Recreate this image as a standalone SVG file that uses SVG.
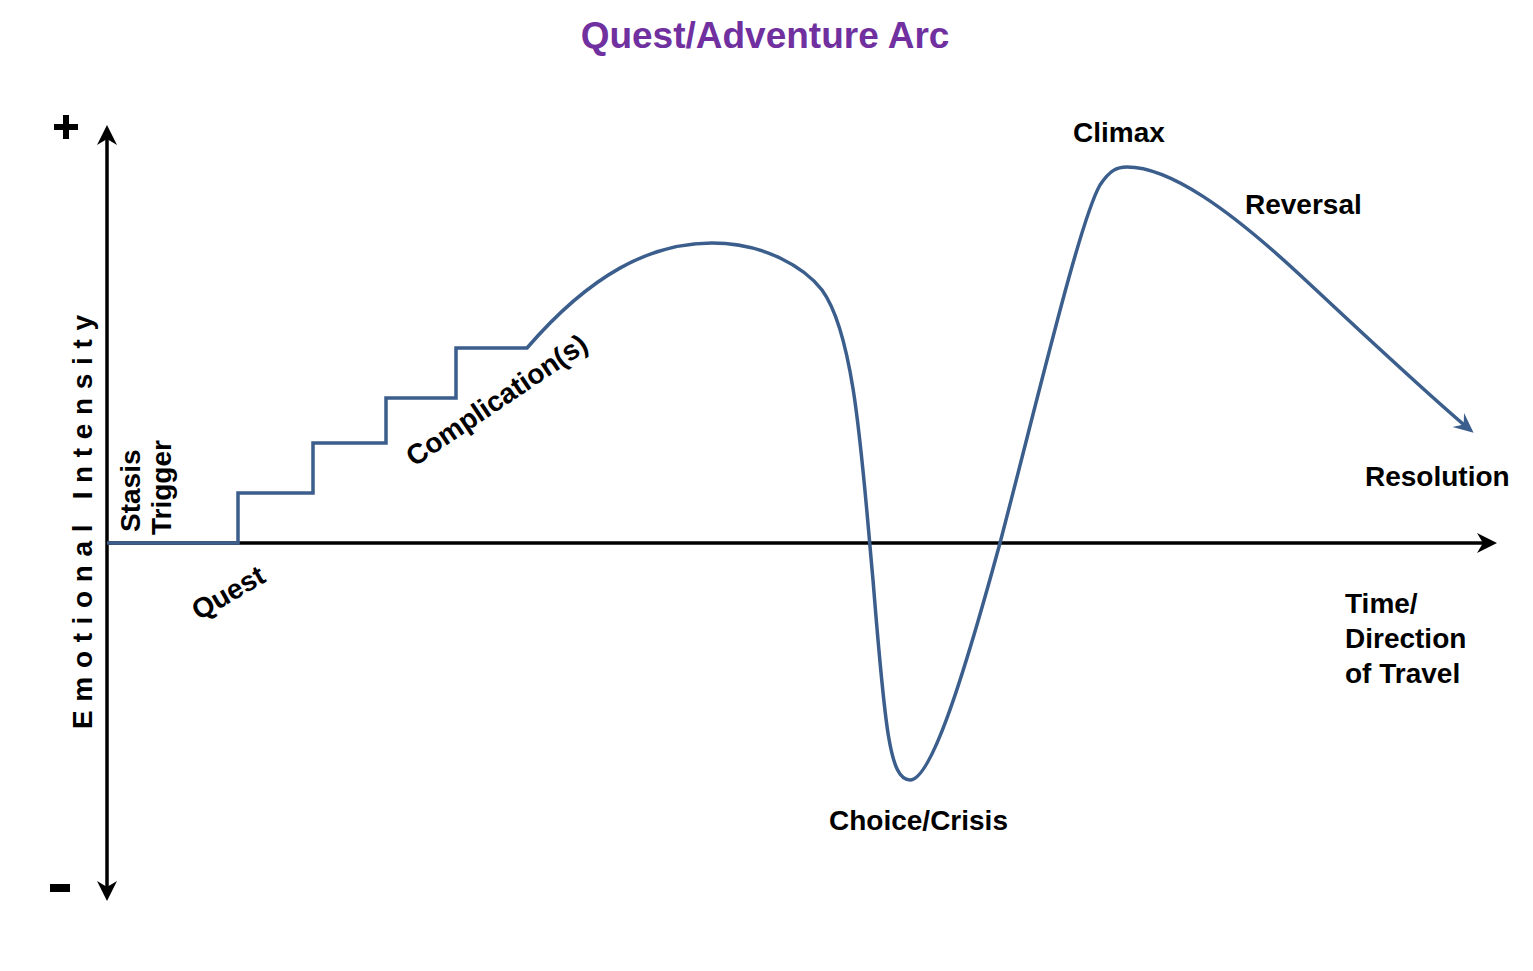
<svg xmlns="http://www.w3.org/2000/svg" width="1533" height="971" viewBox="0 0 1533 971">
<style>
.lbl{font-family:"Liberation Sans",Arial,sans-serif;font-weight:bold;font-size:28px;fill:#000}
.axis{stroke:#000;stroke-width:3.5;fill:none}
.arc{stroke:#3B5E8C;stroke-width:3.5;fill:none}
</style>
<defs>
<marker id="ah" markerUnits="userSpaceOnUse" viewBox="-14 -11 24 22" markerWidth="24" markerHeight="22" refX="0" refY="0" orient="auto-start-reverse" overflow="visible">
<path d="M8,0 L-12,-10 L-6,0 L-12,10 z" fill="#000"/>
</marker>
<marker id="bh" markerUnits="userSpaceOnUse" viewBox="-14 -11 24 22" markerWidth="24" markerHeight="22" refX="0" refY="0" orient="auto" overflow="visible">
<path d="M6,0 L-14,-9 L-7,0 L-14,9 z" fill="#3B5E8C"/>
</marker>
</defs>
<rect width="1533" height="971" fill="#fff"/>
<text x="765" y="48" text-anchor="middle" font-family="Liberation Sans, Arial, sans-serif" font-weight="bold" font-size="37" fill="#7030A0">Quest/Adventure Arc</text>
<g id="connectors">
<line id="y-axis" class="axis" x1="107" y1="893" x2="107" y2="133" marker-start="url(#ah)" marker-end="url(#ah)"/>
<line id="x-axis" class="axis" x1="107" y1="543" x2="1489" y2="543" marker-end="url(#ah)"/>
<path id="arc" class="arc" d="M107,543 H238 V493 H313 V443 H386 V398 H456 V348 H527 C590,275 650,243 712,243 C765,243 805,268 822,290 C855,335 862,460 873,580 C885,730 890,780 910,780 C930,780 960,690 1000,543 C1040,390 1080,220 1100,185 C1110,170 1117,167 1127,167 C1170,167 1230,210 1300,275 C1370,340 1425,392 1469,429" marker-end="url(#bh)"/>
</g>
<g id="plus"><rect x="54" y="124" width="24" height="6" fill="#000"/><rect x="63" y="115" width="6" height="24" fill="#000"/></g>
<g id="minus"><rect x="50" y="884" width="20" height="8" fill="#000"/></g>
<g id="emotional-intensity"><text class="lbl" font-size="32" transform="translate(92,522) rotate(-90)" text-anchor="middle" textLength="414" lengthAdjust="spacing">Emotional Intensity</text></g>
<g id="stasis"><text class="lbl" transform="translate(140,532) rotate(-90)">Stasis</text></g>
<g id="trigger"><text class="lbl" transform="translate(171,535) rotate(-90)">Trigger</text></g>
<g id="quest"><text class="lbl" transform="translate(233,601) rotate(-30)" text-anchor="middle">Quest</text></g>
<g id="complication"><text class="lbl" transform="translate(502,408) rotate(-34)" text-anchor="middle">Complication(s)</text></g>
<g id="climax"><text class="lbl" x="1073" y="142">Climax</text></g>
<g id="reversal"><text class="lbl" x="1245" y="214">Reversal</text></g>
<g id="resolution"><text class="lbl" x="1365" y="486">Resolution</text></g>
<g id="time"><text class="lbl" x="1345" y="613">Time/</text><text class="lbl" x="1345" y="648">Direction</text><text class="lbl" x="1345" y="683">of Travel</text></g>
<g id="choice-crisis"><text class="lbl" x="829" y="830">Choice/Crisis</text></g>
</svg>
